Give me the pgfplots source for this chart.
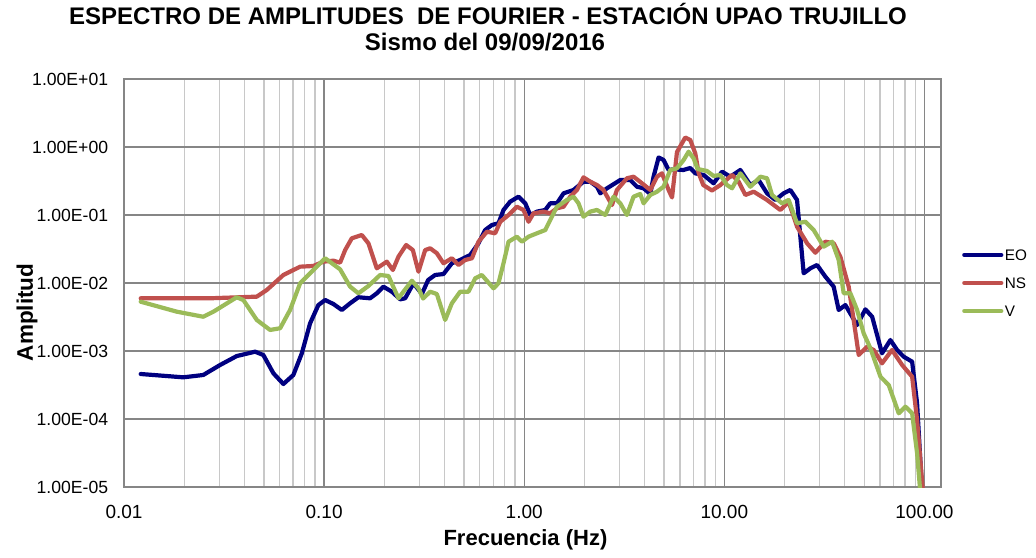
\documentclass[border=0pt]{standalone}
\usepackage{pgfplots}
\pgfplotsset{compat=1.18}
\usepackage{fontspec}
\setmainfont{Liberation Sans}
\definecolor{cEO}{RGB}{0,0,128}
\definecolor{cNS}{RGB}{192,80,77}
\definecolor{cV}{RGB}{155,187,89}
\definecolor{gmaj}{RGB}{134,134,134}
\definecolor{gmin}{RGB}{200,200,200}
\begin{document}
\begin{tikzpicture}
\path[use as bounding box] (-124pt,-70pt) rectangle (912pt,487pt);
\begin{loglogaxis}[
  at={(0pt,0pt)}, anchor=south west,
  scale only axis, width=817pt, height=408pt,
  xmin=0.01, xmax=121, ymin=1e-5, ymax=10,
  xtick={0.01,0.1,1,10,100},
  xticklabels={0.01,0.10,1.00,10.00,100.00},
  ytick={1e-5,1e-4,1e-3,1e-2,1e-1,1,10},
  yticklabels={1.00E-05,1.00E-04,1.00E-03,1.00E-02,1.00E-01,1.00E+00,1.00E+01},
  xticklabel style={anchor=base, yshift=-31pt, inner sep=0pt, font=\fontsize{19}{19}\selectfont},
  yticklabel style={anchor=east, xshift=-15.7pt, inner sep=0pt, font=\fontsize{17.6}{17.6}\selectfont},
  major tick length=0pt, minor tick length=0pt,
  xmajorgrids, xminorgrids, ymajorgrids,
  major grid style={draw=gmaj, line width=1.3pt},
  minor grid style={draw=gmin, line width=1.3pt},
  axis line style={draw=gmaj, line width=1.5pt},
  xlabel={Frecuencia (Hz)},
  ylabel={Amplitud},
  xlabel style={at={(axis description cs:0.4914,0)}, anchor=base, yshift=-58.7pt, font=\bfseries\fontsize{22}{22}\selectfont},
  ylabel style={at={(axis description cs:-0.1114,0.4277)}, anchor=base, rotate=0, font=\bfseries\fontsize{22.5}{22.5}\selectfont},
  legend style={at={(axis description cs:1,0.5)}, anchor=west, xshift=21pt, draw=none, fill=none,
    inner sep=0pt, row sep=14pt, column sep=0pt,
    nodes={inner sep=1.5pt, text height=11pt, text depth=0pt},
    font=\fontsize{15.3}{15.3}\selectfont},
  legend cell align=left,
  legend image code/.code={\draw[#1, line width=4.2pt, line cap=round] (2pt,0pt) -- (39pt,0pt);},
  every axis plot/.append style={line width=4.2pt, line join=round, line cap=round},
]
\addplot[cEO] coordinates {
(0.01212,4.59e-4) (0.01979,4.10e-4) (0.0249,4.44e-4) (0.0302,6.22e-4) (0.0366,8.43e-4)
(0.0452,9.77e-4) (0.0497,8.73e-4) (0.0558,4.70e-4) (0.0626,3.27e-4) (0.0702,4.44e-4)
(0.0774,9.25e-4) (0.0851,2.55e-3) (0.0936,4.74e-3) (0.1012,5.62e-3) (0.1113,4.91e-3)
(0.1226,4.01e-3) (0.1349,5.03e-3) (0.1484,6.17e-3) (0.1698,5.96e-3) (0.1834,7.06e-3)
(0.1979,8.83e-3) (0.2181,7.45e-3) (0.2399,5.75e-3) (0.2541,5.96e-3) (0.2796,9.91e-3)
(0.3080,6.89e-3) (0.3311,1.107e-2) (0.3589,1.312e-2) (0.3949,1.355e-2) (0.4350,1.95e-2)
(0.4786,2.18e-2) (0.537,2.58e-2) (0.591,3.84e-2) (0.638,6.01e-2) (0.690,7.13e-2)
(0.744,7.55e-2) (0.788,0.1186) (0.851,0.157) (0.936,0.186) (1.012,0.1486)
(1.072,0.100) (1.157,0.112) (1.274,0.1186) (1.349,0.1486) (1.457,0.1486)
(1.573,0.2084) (1.764,0.2333) (1.979,0.309) (2.138,0.309) (2.310,0.2606)
(2.399,0.2084) (2.592,0.247) (3.020,0.327) (3.388,0.327) (3.66,0.2606)
(3.95,0.247) (4.266,0.2037) (4.43,0.366) (4.695,0.702) (4.97,0.644)
(5.267,0.459) (5.58,0.470) (6.24,0.459) (6.76,0.491) (7.16,0.410)
(7.88,0.388) (8.84,0.2924) (9.74,0.434) (10.72,0.366) (12.02,0.459)
(13.49,0.276) (14.84,0.327) (16.35,0.2084) (17.99,0.1663) (19.79,0.2084)
(21.38,0.2333) (23.09,0.1663) (23.99,4.80e-2) (24.92,1.39e-2) (26.92,1.644e-2)
(29.07,1.84e-2) (31.99,1.24e-2) (35.2,8.83e-3) (37.29,4.01e-3) (40.27,4.74e-3)
(46.08,2.41e-3) (50.7,4.10e-3) (54.8,3.19e-3) (61.4,9.25e-4) (67.6,1.45e-3)
(73.0,1.035e-3) (78.8,8.24e-4) (86.8,6.97e-4) (91.9,1.70e-4) (97.5,8e-6)
};
\addlegendentry{EO}
\addplot[cNS] coordinates {
(0.01212,5.96e-3) (0.0269,5.96e-3) (0.0461,6.30e-3) (0.0517,7.89e-3) (0.0626,1.312e-2)
(0.0759,1.738e-2) (0.0884,1.78e-2) (0.0992,2.06e-2) (0.1113,2.13e-2) (0.1202,1.99e-2)
(0.1274,3.05e-2) (0.1375,4.54e-2) (0.1543,5.08e-2) (0.1665,3.84e-2) (0.1834,1.644e-2)
(0.2058,2.06e-2) (0.2206,1.553e-2) (0.2353,2.44e-2) (0.2570,3.62e-2) (0.2777,3.05e-2)
(0.2962,1.466e-2) (0.3199,3.05e-2) (0.3388,3.24e-2) (0.3660,2.74e-2) (0.3949,1.95e-2)
(0.4350,2.31e-2) (0.4694,1.84e-2) (0.507,2.18e-2) (0.548,2.31e-2) (0.591,4.05e-2)
(0.651,5.68e-2) (0.716,5.38e-2) (0.759,7.96e-2) (0.835,0.100) (0.919,0.1324)
(0.992,0.1186) (1.051,7.96e-2) (1.113,0.1059) (1.249,0.112) (1.349,0.1059)
(1.457,0.1256) (1.573,0.1324) (1.698,0.186) (1.834,0.2333) (1.979,0.358)
(2.138,0.309) (2.310,0.276) (2.49,0.2333) (2.745,0.140) (2.907,0.2333)
(3.26,0.3467) (3.52,0.366) (3.88,0.2924) (4.266,0.2333) (4.61,0.366)
(4.88,0.410) (5.267,0.2333) (5.48,0.181) (5.80,0.843) (6.38,1.38)
(6.76,1.267) (7.16,0.807) (7.44,0.415) (7.85,0.276) (8.68,0.229)
(9.55,0.276) (10.93,0.388) (11.79,0.309) (12.74,0.197) (14.02,0.2203)
(16.35,0.1663) (19.05,0.1186) (20.97,0.157) (23.09,6.73e-2) (25.92,3.84e-2)
(28.51,2.79e-2) (31.99,4.05e-2) (35.2,3.84e-2) (38.0,2.44e-2) (41.84,8.83e-3)
(44.3,2.86e-3) (46.95,8.73e-4) (51.7,1.156e-3) (55.8,1.035e-3) (61.4,6.59e-4)
(68.9,1.035e-3) (77.4,6.22e-4) (86.8,4.19e-4) (91.9,9.66e-5) (98.5,8e-6)
};
\addlegendentry{NS}
\addplot[cV] coordinates {
(0.01212,5.31e-3) (0.01834,3.79e-3) (0.0249,3.19e-3) (0.0280,3.79e-3) (0.0366,6.17e-3)
(0.0395,5.62e-3) (0.0461,2.86e-3) (0.0537,2.04e-3) (0.0603,2.16e-3) (0.0676,4.01e-3)
(0.0759,9.91e-3) (0.0884,1.553e-2) (0.1012,2.31e-2) (0.1202,1.59e-2) (0.1349,8.83e-3)
(0.1484,7.06e-3) (0.1665,9.04e-3) (0.1905,1.312e-2) (0.2097,1.268e-2) (0.2353,5.96e-3)
(0.2492,7.45e-3) (0.2746,1.081e-2) (0.2962,8.35e-3) (0.3126,5.91e-3) (0.3388,7.45e-3)
(0.3660,6.89e-3) (0.4027,2.86e-3) (0.4350,5.03e-3) (0.4786,7.45e-3) (0.5267,7.45e-3)
(0.569,1.172e-2) (0.614,1.312e-2) (0.702,8.35e-3) (0.744,9.91e-3) (0.788,1.95e-2)
(0.835,4.05e-2) (0.919,4.80e-2) (0.974,4.05e-2) (1.051,4.80e-2) (1.179,5.50e-2)
(1.274,6.01e-2) (1.349,8.43e-2) (1.457,0.1324) (1.635,0.1663) (1.764,0.186)
(1.868,0.1486) (1.979,9.44e-2) (2.138,0.112) (2.310,0.1186) (2.541,0.100)
(2.796,0.186) (3.020,0.1486) (3.26,0.100) (3.52,0.186) (3.80,0.2037)
(3.95,0.1486) (4.266,0.197) (4.61,0.2203) (4.97,0.2606) (5.37,0.459)
(5.80,0.486) (6.26,0.644) (6.63,0.853) (7.02,0.682) (7.36,0.474)
(8.19,0.444) (8.84,0.375) (9.55,0.388) (10.31,0.276) (10.93,0.247)
(12.02,0.410) (13.49,0.2606) (15.14,0.366) (16.35,0.3467) (17.32,0.197)
(19.43,0.1486) (20.97,0.1663) (23.09,7.55e-2) (25.41,7.96e-2) (27.96,6.01e-2)
(31.37,3.42e-2) (34.56,4.05e-2) (37.29,2.18e-2) (39.5,7.06e-3) (42.66,7.06e-3)
(46.08,4.01e-3) (49.7,1.82e-3) (53.7,1.096e-3) (60.3,4.19e-4) (66.3,3.16e-4)
(74.4,1.213e-4) (80.4,1.517e-4) (86.8,1.213e-4) (91.9,3.13e-5) (95.5,8e-6)
};
\addlegendentry{V}
\end{loglogaxis}
\node[anchor=base, font=\bfseries\fontsize{24}{24}\selectfont] at (364pt,462pt) {ESPECTRO DE AMPLITUDES\ \ DE FOURIER - ESTACIÓN UPAO TRUJILLO};
\node[anchor=base, font=\bfseries\fontsize{24}{24}\selectfont] at (361pt,436pt) {Sismo del 09/09/2016};
\end{tikzpicture}
\end{document}
